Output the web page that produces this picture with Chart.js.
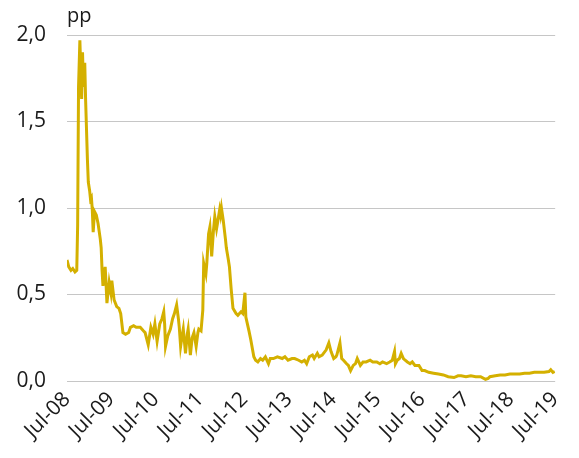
<!DOCTYPE html>
<html>
<head>
<meta charset="utf-8">
<script src="https://cdn.jsdelivr.net/npm/chart.js@4.4.0/dist/chart.umd.min.js"></script>
<style>
  html, body { margin: 0; padding: 0; background: #fff; }
  #wrap { width: 579px; height: 458px; }
</style>
</head>
<body>
<div id="wrap"><canvas id="myChart" width="579" height="458"></canvas></div>
<script>
// data: decimal year -> spread in pp
var years = [
  2008.50, 2008.54, 2008.59, 2008.63, 2008.68, 2008.72, 2008.74, 2008.76, 2008.79, 2008.81,
  2008.83, 2008.85, 2008.87, 2008.90, 2008.92, 2008.94, 2008.96, 2008.98, 2009.01, 2009.03,
  2009.05, 2009.07, 2009.09, 2009.12, 2009.16, 2009.20, 2009.25, 2009.27, 2009.29, 2009.31,
  2009.36, 2009.38, 2009.40, 2009.45, 2009.49, 2009.51, 2009.56, 2009.62, 2009.67, 2009.71,
  2009.76, 2009.82, 2009.89, 2009.93, 2010.00, 2010.06, 2010.15, 2010.22, 2010.26, 2010.33,
  2010.39, 2010.44, 2010.48, 2010.53, 2010.59, 2010.64, 2010.68, 2010.70, 2010.72, 2010.77,
  2010.83, 2010.88, 2010.92, 2010.97, 2011.01, 2011.03, 2011.06, 2011.10, 2011.12, 2011.17,
  2011.21, 2011.23, 2011.28, 2011.32, 2011.36, 2011.41, 2011.45, 2011.47, 2011.52, 2011.56,
  2011.58, 2011.63, 2011.65, 2011.69, 2011.72, 2011.76, 2011.80, 2011.83, 2011.87, 2011.89,
  2011.94, 2011.96, 2011.98, 2012.02, 2012.07, 2012.09, 2012.13, 2012.16, 2012.20, 2012.24,
  2012.31, 2012.35, 2012.42, 2012.46, 2012.51, 2012.53, 2012.60, 2012.64, 2012.71, 2012.75,
  2012.80, 2012.86, 2012.91, 2012.97, 2013.04, 2013.08, 2013.15, 2013.24, 2013.35, 2013.41,
  2013.48, 2013.57, 2013.63, 2013.72, 2013.79, 2013.85, 2013.90, 2013.96, 2014.03, 2014.07,
  2014.14, 2014.18, 2014.25, 2014.34, 2014.40, 2014.45, 2014.51, 2014.56, 2014.58, 2014.65,
  2014.69, 2014.73, 2014.80, 2014.84, 2014.89, 2014.95, 2015.00, 2015.04, 2015.11, 2015.17,
  2015.24, 2015.33, 2015.39, 2015.48, 2015.55, 2015.61, 2015.70, 2015.77, 2015.83, 2015.88,
  2015.90, 2015.94, 2015.99, 2016.03, 2016.08, 2016.12, 2016.17, 2016.23, 2016.28, 2016.34,
  2016.43, 2016.50, 2016.56, 2016.65, 2016.76, 2016.87, 2016.98, 2017.09, 2017.22, 2017.31,
  2017.38, 2017.49, 2017.60, 2017.71, 2017.82, 2017.93, 2017.99, 2018.03, 2018.15, 2018.26,
  2018.37, 2018.48, 2018.59, 2018.70, 2018.81, 2018.92, 2019.03, 2019.14, 2019.25, 2019.36,
  2019.40, 2019.45, 2019.49
];
var spread = [
  0.70, 0.66, 0.64, 0.65, 0.63, 0.64, 0.90, 1.70, 1.97, 1.80,
  1.63, 1.90, 1.70, 1.84, 1.62, 1.45, 1.28, 1.15, 1.10, 1.05,
  1.06, 0.99, 0.86, 0.98, 0.96, 0.91, 0.82, 0.77, 0.64, 0.55,
  0.66, 0.56, 0.45, 0.57, 0.51, 0.58, 0.47, 0.43, 0.42, 0.39,
  0.28, 0.27, 0.28, 0.31, 0.32, 0.31, 0.31, 0.29, 0.28, 0.21,
  0.31, 0.27, 0.33, 0.23, 0.33, 0.36, 0.40, 0.33, 0.20, 0.26,
  0.30, 0.36, 0.39, 0.44, 0.36, 0.31, 0.20, 0.27, 0.30, 0.16,
  0.27, 0.30, 0.15, 0.25, 0.28, 0.20, 0.28, 0.30, 0.29, 0.41,
  0.68, 0.62, 0.68, 0.85, 0.89, 0.72, 0.87, 0.95, 0.88, 0.91,
  0.99, 0.96, 1.00, 0.93, 0.82, 0.77, 0.71, 0.66, 0.53, 0.42,
  0.39, 0.38, 0.40, 0.39, 0.51, 0.37, 0.29, 0.24, 0.14, 0.12,
  0.11, 0.13, 0.12, 0.14, 0.10, 0.13, 0.13, 0.14, 0.13, 0.14,
  0.12, 0.13, 0.13, 0.12, 0.11, 0.12, 0.10, 0.14, 0.15, 0.13,
  0.16, 0.14, 0.15, 0.18, 0.22, 0.17, 0.13, 0.14, 0.15, 0.22,
  0.13, 0.12, 0.10, 0.09, 0.06, 0.09, 0.10, 0.13, 0.09, 0.11,
  0.11, 0.12, 0.11, 0.11, 0.10, 0.11, 0.10, 0.11, 0.12, 0.17,
  0.10, 0.12, 0.13, 0.16, 0.13, 0.12, 0.11, 0.10, 0.11, 0.09,
  0.09, 0.06, 0.06, 0.05, 0.045, 0.04, 0.035, 0.025, 0.02, 0.03,
  0.03, 0.025, 0.03, 0.025, 0.025, 0.01, 0.015, 0.025, 0.03, 0.035,
  0.035, 0.04, 0.04, 0.04, 0.045, 0.045, 0.05, 0.05, 0.05, 0.055,
  0.065, 0.05, 0.055
];

var tickYears = [2008.5, 2009.5, 2010.5, 2011.5, 2012.5, 2013.5, 2014.5, 2015.5, 2016.5, 2017.5, 2018.5, 2019.5];
var tickLabels = ['Jul-08', 'Jul-09', 'Jul-10', 'Jul-11', 'Jul-12', 'Jul-13', 'Jul-14', 'Jul-15', 'Jul-16', 'Jul-17', 'Jul-18', 'Jul-19'];
var unitLabel = 'pp';

var points = [];
for (var i = 0; i < years.length; i++) {
  points.push({ x: years[i], y: spread[i] });
}

var fontFam = '"Open Sans", "Noto Sans", sans-serif';

// draws the "pp" unit above the plot
var unitPlugin = {
  id: 'unitLabel',
  afterDraw: function (chart) {
    var ctx = chart.ctx;
    ctx.save();
    ctx.fillStyle = '#1a1a1a';
    ctx.font = '20px ' + fontFam;
    ctx.textAlign = 'left';
    ctx.textBaseline = 'alphabetic';
    ctx.fillText(unitLabel, chart.chartArea.left, 22);
    ctx.restore();
  }
};

new Chart(document.getElementById('myChart'), {
  type: 'line',
  data: {
    datasets: [{
      data: points,
      borderColor: '#d4b000',
      borderWidth: 3,
      pointRadius: 0,
      tension: 0,
      fill: false
    }]
  },
  options: {
    responsive: false,
    animation: false,
    layout: { padding: { top: 35, right: 13, left: 0, bottom: 0 } },
    plugins: { legend: { display: false }, tooltip: { enabled: false } },
    scales: {
      x: {
        type: 'linear',
        min: 2008.5,
        max: 2019.5,
        afterBuildTicks: function (scale) {
          scale.ticks = tickYears.map(function (v) { return { value: v }; });
        },
        afterFit: function (scale) { scale.height = 77; },
        grid: { display: false, drawTicks: false },
        border: { display: false },
        ticks: {
          autoSkip: false,
          minRotation: 45,
          maxRotation: 45,
          padding: 6,
          color: '#1a1a1a',
          font: { family: fontFam, size: 21 },
          callback: function (value) {
            var idx = tickYears.indexOf(value);
            return idx >= 0 ? tickLabels[idx] : '';
          }
        }
      },
      y: {
        min: 0,
        max: 2,
        afterFit: function (scale) { scale.width = 67; },
        grid: { color: '#c6c6c6', lineWidth: 1, drawTicks: false },
        border: { display: false },
        ticks: {
          stepSize: 0.5,
          padding: 21,
          color: '#1a1a1a',
          font: { family: fontFam, size: 21 },
          callback: function (value) { return value.toFixed(1).replace('.', ','); }
        }
      }
    }
  },
  plugins: [unitPlugin]
});
</script>
</body>
</html>
